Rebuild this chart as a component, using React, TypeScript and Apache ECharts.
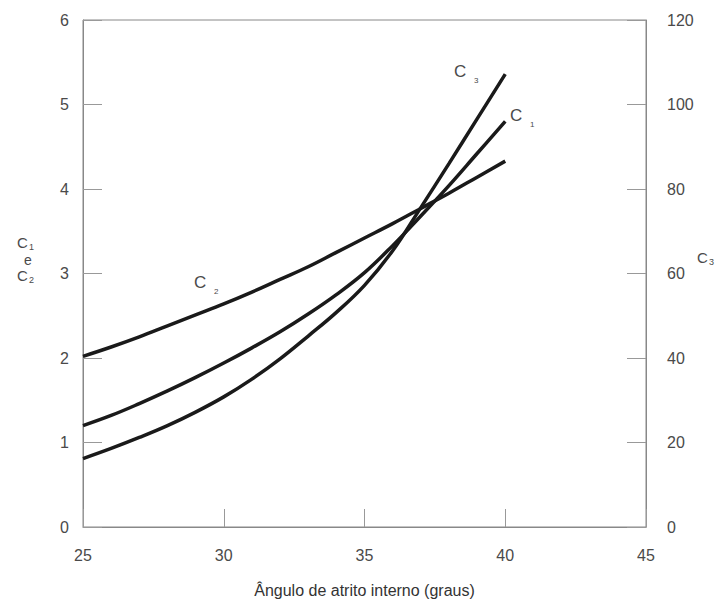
import React, { useEffect, useRef } from "react";
import * as echarts from "echarts";

const angles = [25, 26, 27, 28, 29, 30, 31, 32, 33, 34, 35, 36, 37, 38, 39, 40];
const c1Values = [1.2, 1.32, 1.46, 1.61, 1.77, 1.94, 2.12, 2.31, 2.52, 2.75, 3.01, 3.33, 3.68, 4.04, 4.42, 4.8];
const c2Values = [2.02, 2.13, 2.25, 2.38, 2.51, 2.64, 2.78, 2.93, 3.08, 3.25, 3.42, 3.59, 3.77, 3.95, 4.14, 4.33];
const c3Values = [16.2, 18.6, 21.2, 24.0, 27.2, 30.8, 35.0, 39.8, 45.2, 50.8, 57.2, 65.4, 75.6, 86.0, 96.6, 107.2];

const xTitle = "Ângulo de atrito interno (graus)";
const FONT = "'Liberation Sans', Arial, sans-serif";
const TXT = "#4a4a4a";

function pairs(vals: number[]) {
  return angles.map((a, i) => [a, vals[i]]);
}

export default function App() {
  const ref = useRef<HTMLDivElement>(null);
  useEffect(() => {
    if (!ref.current) return;
    const chart = echarts.init(ref.current, undefined, { renderer: "svg" });
    const axisCommon = {
      axisLine: { show: true, lineStyle: { color: "#888", width: 1 } },
      axisTick: { show: true, inside: true, length: 19, lineStyle: { color: "#999", width: 1 } },
      splitLine: { show: false },
    };
    const lineStyle = { color: "#1a1a1a", width: 3.5 };
    const sub = (x: number, y: number, s: string) => ({
      type: "text",
      x,
      y,
      style: { text: s, fontSize: 8, fontFamily: FONT, fill: TXT },
    });
    const big = (x: number, y: number, s: string) => ({
      type: "text",
      x,
      y,
      style: { text: s, fontSize: 17, fontFamily: FONT, fill: TXT },
    });
    chart.setOption({
      animation: false,
      backgroundColor: "#fff",
      grid: { left: 83, right: 77, top: 20, bottom: 72, show: true, borderColor: "#888", borderWidth: 1 },
      xAxis: {
        type: "value",
        min: 25,
        max: 45,
        interval: 5,
        ...axisCommon,
        axisTick: { show: true, inside: true, length: 18, lineStyle: { color: "#999", width: 1 } },
        axisLabel: { fontSize: 16, fontFamily: FONT, color: TXT, margin: 20 },
        name: xTitle,
        nameLocation: "middle",
        nameGap: 55,
        nameTextStyle: { fontSize: 16, fontFamily: FONT, color: "#333" },
      },
      yAxis: [
        {
          type: "value",
          min: 0,
          max: 6,
          interval: 1,
          position: "left",
          ...axisCommon,
          axisLabel: { fontSize: 16, fontFamily: FONT, color: TXT, margin: 14 },
        },
        {
          type: "value",
          min: 0,
          max: 120,
          interval: 20,
          position: "right",
          ...axisCommon,
          axisLabel: { fontSize: 16, fontFamily: FONT, color: TXT, margin: 21 },
        },
      ],
      series: [
        { name: "C1", type: "line", data: pairs(c1Values), smooth: 0.4, showSymbol: false, lineStyle, yAxisIndex: 0 },
        { name: "C2", type: "line", data: pairs(c2Values), smooth: 0.4, showSymbol: false, lineStyle, yAxisIndex: 0 },
        { name: "C3", type: "line", data: pairs(c3Values), smooth: 0.4, showSymbol: false, lineStyle, yAxisIndex: 1 },
      ],
      graphic: [
        big(454, 63, "C"),
        sub(474, 76, "3"),
        big(510, 107, "C"),
        sub(530, 120, "1"),
        big(194, 274, "C"),
        sub(214, 287, "2"),
        { type: "text", x: 17, y: 235, style: { text: "C", fontSize: 15, fontFamily: FONT, fill: TXT } },
        { type: "text", x: 29, y: 242, style: { text: "1", fontSize: 9, fontFamily: FONT, fill: TXT } },
        { type: "text", x: 24, y: 253, style: { text: "e", fontSize: 14, fontFamily: FONT, fill: TXT } },
        { type: "text", x: 17, y: 268, style: { text: "C", fontSize: 15, fontFamily: FONT, fill: TXT } },
        { type: "text", x: 29, y: 275, style: { text: "2", fontSize: 9, fontFamily: FONT, fill: TXT } },
        { type: "text", x: 697, y: 250, style: { text: "C", fontSize: 15, fontFamily: FONT, fill: TXT } },
        { type: "text", x: 709, y: 257, style: { text: "3", fontSize: 9, fontFamily: FONT, fill: TXT } },
      ],
    });
    return () => chart.dispose();
  }, []);
  return (
    <div
      ref={ref}
      style={{ position: "absolute", left: 0, top: 0, width: 723, height: 603, background: "#fff" }}
    />
  );
}
